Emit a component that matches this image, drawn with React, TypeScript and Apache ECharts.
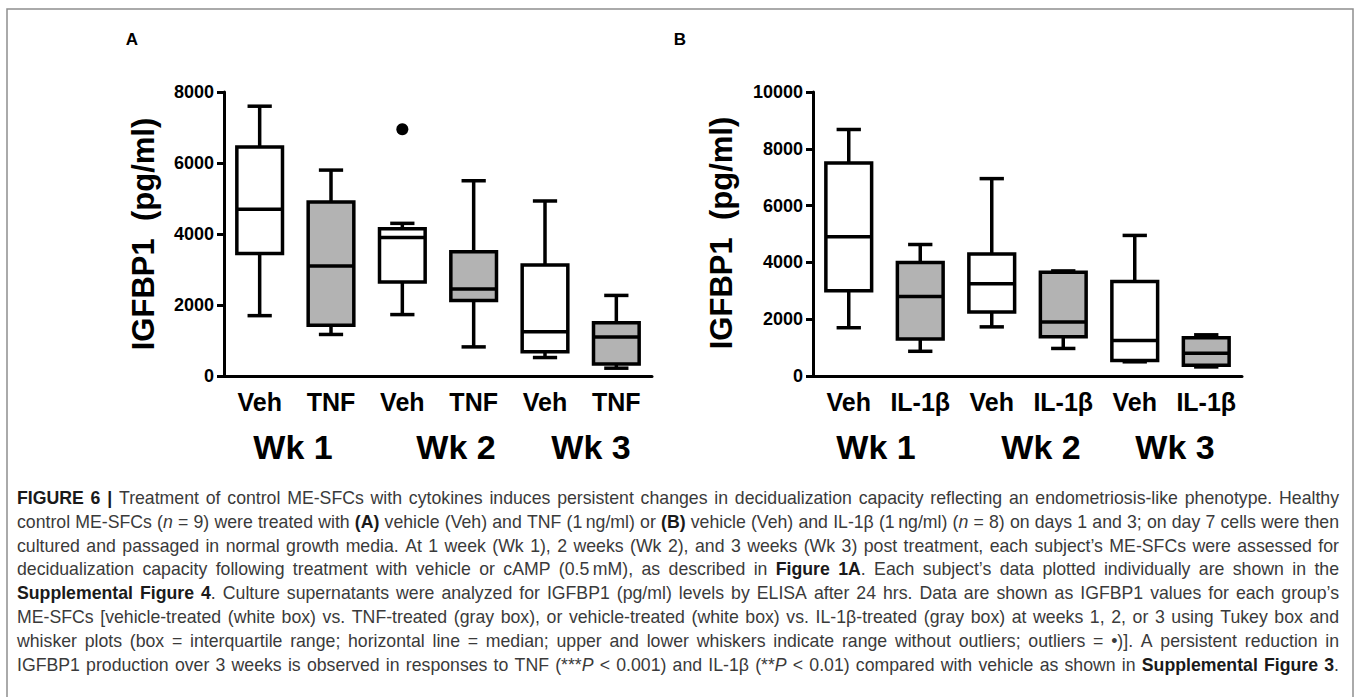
import React, { useEffect, useRef } from 'react';
import * as echarts from 'echarts';

// ---------- data ----------
const catsA = ['Veh', 'TNF', 'Veh', 'TNF', 'Veh', 'TNF'];
const catsB = ['Veh', 'IL-1β', 'Veh', 'IL-1β', 'Veh', 'IL-1β'];
const weeks = ['Wk 1', 'Wk 2', 'Wk 3'];
const yMaxA = 8000;
const yMaxB = 10000;
const yStep = 2000;
// [category index, min, Q1, median, Q3, max]
const vehA = [
  [0, 1700, 3450, 4700, 6450, 7600],
  [2, 1730, 2650, 3900, 4150, 4300],
  [4, 520, 680, 1250, 3130, 4930],
];
const tnfA = [
  [1, 1170, 1430, 3100, 4900, 5800],
  [3, 820, 2130, 2450, 3500, 5500],
  [5, 220, 340, 1100, 1500, 2270],
];
const outliersA = [[2, 6950]];
const vehB = [
  [0, 1700, 3000, 4900, 7500, 8680],
  [2, 1730, 2250, 3250, 4300, 6950],
  [4, 500, 550, 1250, 3330, 4950],
];
const il1bB = [
  [1, 870, 1300, 2800, 4000, 4630],
  [3, 970, 1380, 1900, 3650, 3700],
  [5, 320, 380, 800, 1350, 1450],
];

type Seg = [string, 'n' | 'b' | 'i'];
const captionLines: Seg[][] = [
  [['FIGURE 6 |', 'b'], [' Treatment of control ME-SFCs with cytokines induces persistent changes in decidualization capacity reflecting an endometriosis-like phenotype. Healthy', 'n']],
  [['control ME-SFCs (', 'n'], ['n', 'i'], [' = 9) were treated with ', 'n'], ['(A)', 'b'], [' vehicle (Veh) and TNF (1\u2009ng/ml) or ', 'n'], ['(B)', 'b'], [' vehicle (Veh) and IL-1β (1\u2009ng/ml) (', 'n'], ['n', 'i'], [' = 8) on days 1 and 3; on day 7 cells were then', 'n']],
  [['cultured and passaged in normal growth media. At 1 week (Wk 1), 2 weeks (Wk 2), and 3 weeks (Wk 3) post treatment, each subject’s ME-SFCs were assessed for', 'n']],
  [['decidualization capacity following treatment with vehicle or cAMP (0.5\u2009mM), as described in ', 'n'], ['Figure 1A', 'b'], ['. Each subject’s data plotted individually are shown in the', 'n']],
  [['Supplemental Figure 4', 'b'], ['. Culture supernatants were analyzed for IGFBP1 (pg/ml) levels by ELISA after 24 hrs. Data are shown as IGFBP1 values for each group’s', 'n']],
  [['ME-SFCs [vehicle-treated (white box) vs. TNF-treated (gray box), or vehicle-treated (white box) vs. IL-1β-treated (gray box) at weeks 1, 2, or 3 using Tukey box and', 'n']],
  [['whisker plots (box = interquartile range; horizontal line = median; upper and lower whiskers indicate range without outliers; outliers = •)]. A persistent reduction in', 'n']],
  [['IGFBP1 production over 3 weeks is observed in responses to TNF (***', 'n'], ['P', 'i'], [' < 0.001) and IL-1β (**', 'n'], ['P', 'i'], [' < 0.01) compared with vehicle as shown in ', 'n'], ['Supplemental Figure 3', 'b'], ['.', 'n']],
];

// ---------- styling ----------
const FONT = "'Liberation Sans', Arial, Helvetica, sans-serif";
const CAP_LEFT = 17;
const CAP_RIGHT = 1339;
const CAP_TOP = 498;
const CAP_STEP = 23.8;
const GRAY = '#b3b3b3';
const LW = 3.5;

function capFont(st: string, size: number) {
  return `${st === 'i' ? 'italic ' : ''}${st === 'b' ? 'bold ' : ''}${size}px ${FONT}`;
}

function buildCaption(): any[] {
  const canvas = document.createElement('canvas');
  const ctx = canvas.getContext('2d')!;
  const out: any[] = [];
  const W = CAP_RIGHT - CAP_LEFT;
  const lines = captionLines.map((line) => {
    const words: { text: string; st: string }[][] = [];
    let cur: { text: string; st: string }[] = [];
    line.forEach(([txt, st]) => {
      const parts = txt.split(' ');
      parts.forEach((p, i) => {
        if (i > 0 && cur.length) {
          words.push(cur);
          cur = [];
        }
        if (p.length) cur.push({ text: p, st });
      });
    });
    if (cur.length) words.push(cur);
    return words;
  });
  // choose a font size so that the fullest line fits with normal word spacing
  const REF = 10;
  let minScale = Infinity;
  lines.forEach((words) => {
    let tot = 0;
    words.forEach((w) =>
      w.forEach((pc) => {
        ctx.font = capFont(pc.st, REF);
        tot += ctx.measureText(pc.text).width;
      })
    );
    ctx.font = capFont('n', REF);
    tot += ctx.measureText(' ').width * (words.length - 1);
    minScale = Math.min(minScale, W / tot);
  });
  const size = Math.min(18, Math.floor(REF * minScale * 0.995 * 10) / 10);

  lines.forEach((words, li) => {
    let total = 0;
    const widths = words.map((w) =>
      w.map((pc) => {
        ctx.font = capFont(pc.st, size);
        const m = ctx.measureText(pc.text).width;
        total += m;
        return m;
      })
    );
    const gap = (W - total) / Math.max(1, words.length - 1);
    let x = CAP_LEFT;
    const y = CAP_TOP + li * CAP_STEP;
    words.forEach((w, wi) => {
      w.forEach((pc, pi) => {
        out.push({
          type: 'text',
          x,
          y,
          silent: true,
          style: {
            text: pc.text,
            fill: pc.st === 'b' ? '#1a1a1a' : '#3a3a3a',
            fontSize: size,
            fontFamily: FONT,
            fontWeight: pc.st === 'b' ? 'bold' : 'normal',
            fontStyle: pc.st === 'i' ? 'italic' : 'normal',
            align: 'left',
            verticalAlign: 'middle',
          },
        });
        x += widths[wi][pi];
      });
      x += gap;
    });
  });
  return out;
}

function boxRender(fill: string) {
  return (params: any, api: any) => {
    const xi = api.value(0);
    const pMin = api.coord([xi, api.value(1)]);
    const pQ1 = api.coord([xi, api.value(2)]);
    const pMed = api.coord([xi, api.value(3)]);
    const pQ3 = api.coord([xi, api.value(4)]);
    const pMax = api.coord([xi, api.value(5)]);
    const band = api.size([1, 0])[0];
    const hw = band * 0.32;
    const cw = band * 0.17;
    const cx = pMed[0];
    const ls = { stroke: '#000', lineWidth: LW };
    return {
      type: 'group',
      children: [
        { type: 'line', shape: { x1: cx, y1: pMax[1], x2: cx, y2: pQ3[1] }, style: ls },
        { type: 'line', shape: { x1: cx, y1: pQ1[1], x2: cx, y2: pMin[1] }, style: ls },
        { type: 'line', shape: { x1: cx - cw, y1: pMax[1], x2: cx + cw, y2: pMax[1] }, style: ls },
        { type: 'line', shape: { x1: cx - cw, y1: pMin[1], x2: cx + cw, y2: pMin[1] }, style: ls },
        {
          type: 'rect',
          shape: { x: cx - hw, y: pQ3[1], width: hw * 2, height: pQ1[1] - pQ3[1] },
          style: { fill, stroke: '#000', lineWidth: LW },
        },
        { type: 'line', shape: { x1: cx - hw, y1: pMed[1], x2: cx + hw, y2: pMed[1] }, style: ls },
      ],
    };
  };
}

function xAxisOpt(cats: string[], gridIndex: number) {
  return {
    type: 'category',
    gridIndex,
    data: cats,
    boundaryGap: true,
    axisLine: { lineStyle: { color: '#000', width: 3 } },
    axisTick: { alignWithLabel: true, length: 8, lineStyle: { color: '#000', width: 3 } },
    axisLabel: { interval: 0, color: '#000', fontSize: 25, fontWeight: 'bold', fontFamily: FONT, margin: 13 },
    splitLine: { show: false },
  };
}

function yAxisOpt(max: number, gridIndex: number) {
  return {
    type: 'value',
    gridIndex,
    min: 0,
    max,
    interval: yStep,
    axisLine: { show: true, lineStyle: { color: '#000', width: 3 } },
    axisTick: { show: true, length: 7, lineStyle: { color: '#000', width: 3 } },
    axisLabel: {
      color: '#000',
      fontSize: 18,
      fontWeight: 'bold',
      fontFamily: FONT,
      margin: 10,
      formatter: (v: number) => String(v),
    },
    splitLine: { show: false },
  };
}

function boxSeries(data: number[][], fill: string, axisIndex: number) {
  return {
    type: 'custom',
    xAxisIndex: axisIndex,
    yAxisIndex: axisIndex,
    data,
    encode: { x: 0, y: [1, 2, 3, 4, 5] },
    renderItem: boxRender(fill),
    clip: false,
    z: 2,
  };
}

const weekXA = [293, 456, 591];
const weekXB = [876, 1041, 1175];

function textEl(text: string, x: number, y: number, size: number, extra: any = {}) {
  return {
    type: 'text',
    x,
    y,
    silent: true,
    ...extra,
    style: {
      text,
      fill: '#000',
      fontSize: size,
      fontWeight: 'bold',
      fontFamily: FONT,
      align: 'center',
      verticalAlign: 'middle',
    },
  };
}

export default function App() {
  const ref = useRef<HTMLDivElement>(null);
  useEffect(() => {
    if (!ref.current) return;
    const chart = echarts.init(ref.current, undefined, { renderer: 'svg' });
    const graphics: any[] = [
      {
        type: 'rect',
        shape: { x: 7, y: 9, width: 1346, height: 710 },
        style: { fill: 'none', stroke: '#8f8f8f', lineWidth: 1.5 },
        silent: true,
      },
      textEl('A', 132, 39, 17),
      textEl('B', 680, 39, 17),
      textEl('IGFBP1  (pg/ml)', 143, 234, 31, { rotation: Math.PI / 2 }),
      textEl('IGFBP1  (pg/ml)', 721, 233, 31, { rotation: Math.PI / 2 }),
      ...weeks.map((w, i) => textEl(w, weekXA[i], 447, 34)),
      ...weeks.map((w, i) => textEl(w, weekXB[i], 447, 34)),
      ...buildCaption(),
    ];
    chart.setOption({
      animation: false,
      backgroundColor: '#fff',
      grid: [
        { left: 224, top: 92, width: 428, height: 284 },
        { left: 813, top: 92, width: 429, height: 284 },
      ],
      xAxis: [xAxisOpt(catsA, 0), xAxisOpt(catsB, 1)],
      yAxis: [yAxisOpt(yMaxA, 0), yAxisOpt(yMaxB, 1)],
      series: [
        boxSeries(vehA, '#fff', 0),
        boxSeries(tnfA, GRAY, 0),
        {
          type: 'scatter',
          xAxisIndex: 0,
          yAxisIndex: 0,
          data: outliersA,
          symbol: 'circle',
          symbolSize: 12,
          itemStyle: { color: '#000', opacity: 1 },
          z: 3,
        },
        boxSeries(vehB, '#fff', 1),
        boxSeries(il1bB, GRAY, 1),
      ],
      graphic: graphics,
    });
    return () => chart.dispose();
  }, []);
  return (
    <div
      ref={ref}
      style={{ position: 'absolute', left: 0, top: 0, width: 1360, height: 697, background: '#fff' }}
    />
  );
}
